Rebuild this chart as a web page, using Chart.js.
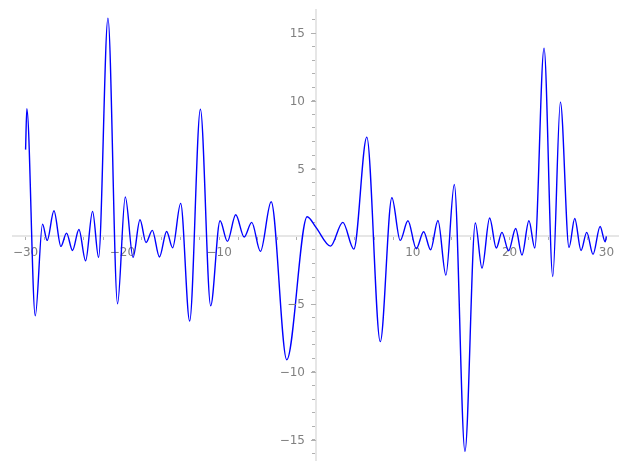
<!DOCTYPE html>
<html>
<head>
<meta charset="utf-8">
<script src="https://cdn.jsdelivr.net/npm/chart.js@4.4.1/dist/chart.umd.min.js"></script>
<style>
html, body { margin: 0; padding: 0; background: #fff; }
#wrap { width: 627px; height: 470px; }
</style>
</head>
<body>
<div id="wrap"><canvas id="plot"></canvas></div>
<script>
// curve samples (mostly the turning points)
const xValues = [-30, -29.87, -29.0, -28.25, -27.77, -27.07, -26.35, -25.77, -25.15, -24.49, -23.8, -23.08, -22.46,
    -21.49, -20.5, -19.7, -18.9, -18.18, -17.56, -16.91, -16.17, -15.43, -14.81, -13.98, -13.05, -11.94, -10.88,
    -9.91, -9.15, -8.29, -7.42, -6.64, -5.74, -4.63, -3.02, -0.91, 0, 1.5, 2.77, 3.91, 5.25, 6.64, 7.84, 8.7,
    9.5, 10.36, 11.12, 11.84, 12.6, 13.42, 14.29, 15.39, 16.46, 17.15, 17.94, 18.63, 19.21, 19.9, 20.63, 21.28,
    22.0, 22.6, 23.56, 24.46, 25.25, 26.14, 26.73, 27.38, 27.97, 28.62, 29.35, 29.87, 30];
const yValues = [6.4, 9.41, -5.86, 0.9, -0.3, 1.89, -0.74, 0.24, -1.04, 0.51, -1.8, 1.84, -1.55,
    16.1, -4.97, 2.9, -1.55, 1.22, -0.45, 0.44, -1.52, 0.36, -0.84, 2.43, -6.25, 9.39, -5.12,
    1.15, -0.37, 1.59, -0.05, 1.03, -1.11, 2.55, -9.1, 1.45, 0.66, -0.72, 1.03, -0.94, 7.32, -7.77, 2.85, -0.3,
    1.15, -0.91, 0.34, -0.99, 1.17, -2.86, 3.83, -15.86, 0.98, -2.34, 1.35, -0.86, 0.29, -1.06, 0.58, -1.38,
    1.15, -0.86, 13.89, -2.96, 9.9, -0.82, 1.32, -1.04, 0.29, -1.33, 0.73, -0.4, 0.0];

const xTickLabels = [-30, -20, -10, 10, 20, 30];
const yTickLabels = [-15, -10, -5, 5, 10, 15];

const points = xValues.map((x, i) => ({ x: x, y: yValues[i] }));

function fmt(v) {
    return v < 0 ? '\u2212' + Math.abs(v) : String(v);
}

const tickFont = { family: 'DejaVu Sans', size: 12 };
const gray = '#808080';
const tickGray = '#b0b0b0';
const axisGray = '#e6e6e6';

// chart.js ignores ticks.padding for an axis pinned at x=0, so the y labels
// (and the longer major tick marks) are put in by hand from the scales
const yLabelsPlugin = {
    id: 'yLabels',
    afterDraw(chart) {
        const ctx = chart.ctx;
        const xs = chart.scales.x;
        const ys = chart.scales.y;
        const x0 = xs.getPixelForValue(0);
        ctx.save();
        ctx.strokeStyle = tickGray;
        ctx.lineWidth = 1;
        ctx.fillStyle = gray;
        ctx.font = '12px "DejaVu Sans"';
        ctx.textAlign = 'right';
        ctx.textBaseline = 'alphabetic';
        yTickLabels.forEach(v => {
            const py = ys.getPixelForValue(v);
            ctx.beginPath();
            ctx.moveTo(x0 - 5, Math.round(py) + 0.5);
            ctx.lineTo(x0, Math.round(py) + 0.5);
            ctx.stroke();
            ctx.fillText(fmt(v), x0 - 11, py + 4);
        });
        ctx.restore();
    }
};

new Chart(document.getElementById('plot'), {
    type: 'line',
    data: {
        datasets: [{
            data: points,
            borderColor: '#0000ff',
            borderWidth: 1.4,
            pointRadius: 0,
            fill: false,
            cubicInterpolationMode: 'monotone'
        }]
    },
    options: {
        responsive: true,
        maintainAspectRatio: false,
        animation: false,
        layout: { padding: { left: 13, right: 9, top: 10, bottom: 10 } },
        plugins: { legend: { display: false }, tooltip: { enabled: false } },
        scales: {
            x: {
                type: 'linear',
                min: -31.3,
                max: 31.2,
                position: { y: 0 },
                afterBuildTicks: axis => {
                    const t = [];
                    for (let v = -30; v <= 30; v += 2) t.push({ value: v });
                    axis.ticks = t;
                },
                // axes cross at the origin, so they take no room of their own
                afterFit: axis => {
                    axis.height = 0;
                    axis.paddingLeft = 0;
                    axis.paddingRight = 0;
                    axis.paddingTop = 0;
                    axis.paddingBottom = 0;
                },
                grid: { drawOnChartArea: false, drawTicks: true, tickLength: 3, tickColor: tickGray },
                border: { color: axisGray, width: 2 },
                ticks: {
                    color: gray, font: tickFont, autoSkip: false, maxRotation: 0, padding: 6,
                    callback: v => xTickLabels.includes(v) ? fmt(v) : ''
                }
            },
            y: {
                type: 'linear',
                min: -16.5,
                max: 16.7,
                position: { x: 0 },
                afterBuildTicks: axis => {
                    const t = [];
                    for (let v = -16; v <= 16; v += 1) t.push({ value: v });
                    axis.ticks = t;
                },
                afterFit: axis => {
                    axis.width = 0;
                    axis.paddingLeft = 0;
                    axis.paddingRight = 0;
                    axis.paddingTop = 0;
                    axis.paddingBottom = 0;
                },
                grid: { drawOnChartArea: false, drawTicks: true, tickLength: 3, tickColor: tickGray },
                border: { color: axisGray, width: 2 },
                ticks: { display: false }
            }
        }
    },
    plugins: [yLabelsPlugin]
});
</script>
</body>
</html>
